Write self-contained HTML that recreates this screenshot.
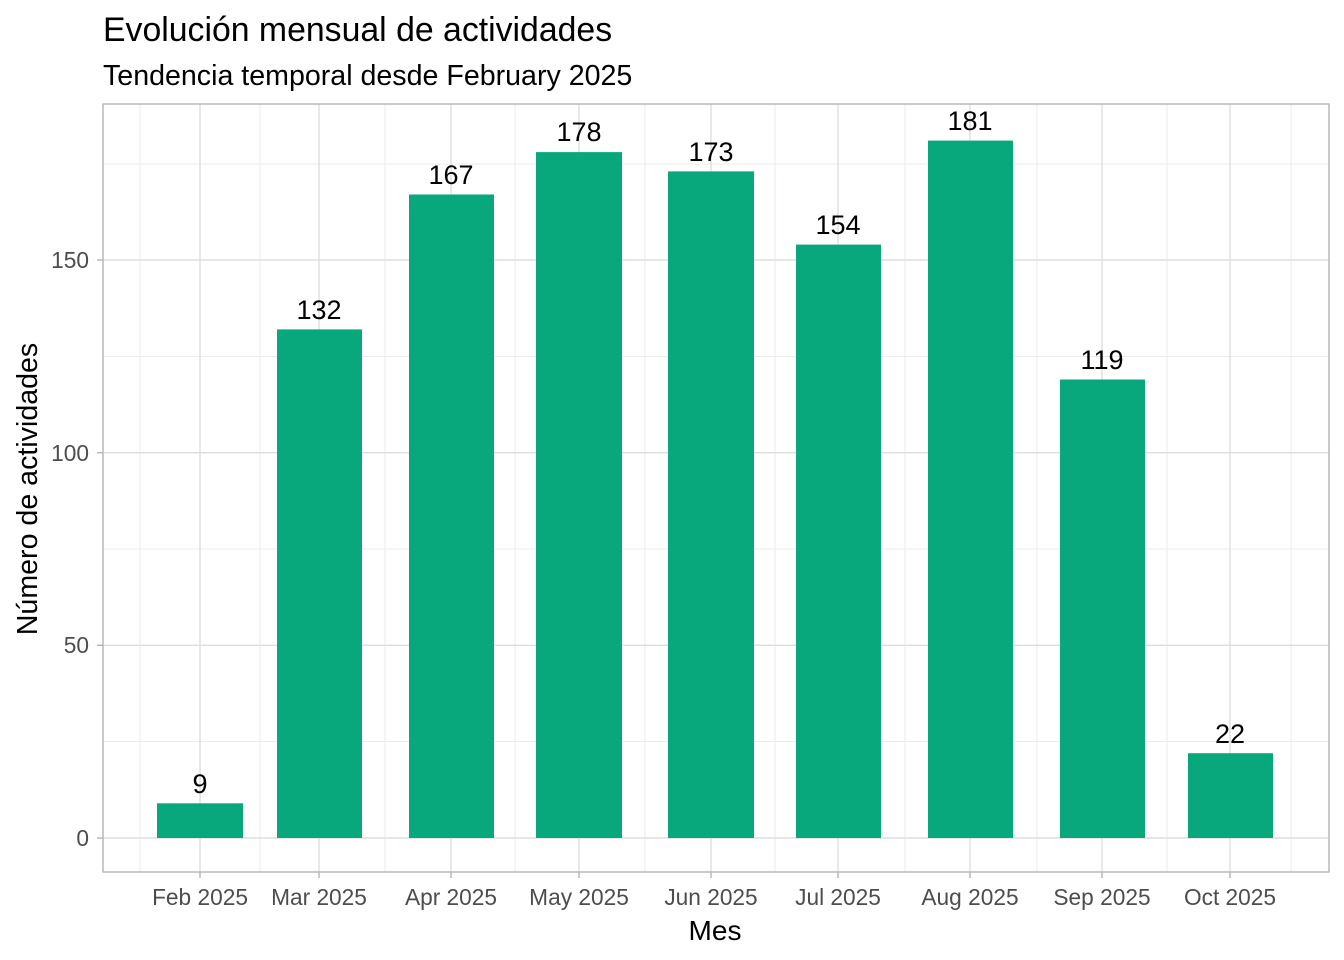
<!DOCTYPE html>
<html><head><meta charset="utf-8"><style>body{margin:0;background:#fff}svg{display:block}</style></head><body>
<svg width="1344" height="960" xmlns="http://www.w3.org/2000/svg" font-family="Liberation Sans, Arial, sans-serif">
<rect width="1344" height="960" fill="#fff"/>
<text x="103" y="41" font-size="33.8" fill="#000">Evolución mensual de actividades</text>
<text x="103" y="85" font-size="28.6" fill="#000">Tendencia temporal desde February 2025</text>
<g stroke="#ebebeb" stroke-width="1">
<line x1="103" x2="1329" y1="741.5" y2="741.5"/><line x1="103" x2="1329" y1="549" y2="549"/>
<line x1="103" x2="1329" y1="356.5" y2="356.5"/><line x1="103" x2="1329" y1="164" y2="164"/>
<line x1="140" x2="140" y1="104" y2="872"/><line x1="260" x2="260" y1="104" y2="872"/>
<line x1="385" x2="385" y1="104" y2="872"/><line x1="515" x2="515" y1="104" y2="872"/>
<line x1="645" x2="645" y1="104" y2="872"/><line x1="775" x2="775" y1="104" y2="872"/>
<line x1="905" x2="905" y1="104" y2="872"/><line x1="1037" x2="1037" y1="104" y2="872"/>
<line x1="1167" x2="1167" y1="104" y2="872"/><line x1="1291" x2="1291" y1="104" y2="872"/>
</g>
<g stroke="#dedede" stroke-width="1.4">
<line x1="103" x2="1329" y1="838" y2="838"/><line x1="103" x2="1329" y1="645.3" y2="645.3"/>
<line x1="103" x2="1329" y1="452.7" y2="452.7"/><line x1="103" x2="1329" y1="260" y2="260"/>
<line x1="200" x2="200" y1="104" y2="872"/><line x1="319" x2="319" y1="104" y2="872"/>
<line x1="451" x2="451" y1="104" y2="872"/><line x1="579" x2="579" y1="104" y2="872"/>
<line x1="711" x2="711" y1="104" y2="872"/><line x1="838" x2="838" y1="104" y2="872"/>
<line x1="970" x2="970" y1="104" y2="872"/><line x1="1102" x2="1102" y1="104" y2="872"/>
<line x1="1230" x2="1230" y1="104" y2="872"/>
</g>
<g fill="#08a77c">
<rect x="157" y="803.3" width="86" height="34.7"/>
<rect x="277" y="329.4" width="85" height="508.6"/>
<rect x="409" y="194.5" width="85" height="643.5"/>
<rect x="536" y="152.1" width="86" height="685.9"/>
<rect x="668" y="171.4" width="86" height="666.6"/>
<rect x="796" y="244.6" width="85" height="593.4"/>
<rect x="928" y="140.6" width="85" height="697.4"/>
<rect x="1060" y="379.5" width="85" height="458.5"/>
<rect x="1188" y="753.2" width="85" height="84.8"/>
</g>
<g font-size="27" text-anchor="middle" fill="#000">
<text x="200" y="793">9</text><text x="319" y="319">132</text><text x="451" y="184">167</text>
<text x="579" y="141">178</text><text x="711" y="161">173</text><text x="838" y="234">154</text>
<text x="970" y="130">181</text><text x="1102" y="369">119</text><text x="1230" y="743">22</text>
</g>
<rect x="103" y="104" width="1226" height="768" fill="none" stroke="#b3b3b3" stroke-width="1.4"/>
<g stroke="#b3b3b3" stroke-width="1.4">
<line x1="97" x2="103" y1="838" y2="838"/><line x1="97" x2="103" y1="645.3" y2="645.3"/>
<line x1="97" x2="103" y1="452.7" y2="452.7"/><line x1="97" x2="103" y1="260" y2="260"/>
<line x1="200" x2="200" y1="872" y2="878"/><line x1="319" x2="319" y1="872" y2="878"/>
<line x1="451" x2="451" y1="872" y2="878"/><line x1="579" x2="579" y1="872" y2="878"/>
<line x1="711" x2="711" y1="872" y2="878"/><line x1="838" x2="838" y1="872" y2="878"/>
<line x1="970" x2="970" y1="872" y2="878"/><line x1="1102" x2="1102" y1="872" y2="878"/>
<line x1="1230" x2="1230" y1="872" y2="878"/>
</g>
<g font-size="22.7" fill="#4d4d4d" text-anchor="end">
<text x="89" y="846">0</text><text x="89" y="653">50</text><text x="89" y="461">100</text><text x="89" y="268">150</text>
</g>
<g font-size="22.7" fill="#4d4d4d" text-anchor="middle">
<text x="200" y="905">Feb 2025</text><text x="319" y="905">Mar 2025</text><text x="451" y="905">Apr 2025</text>
<text x="579" y="905">May 2025</text><text x="711" y="905">Jun 2025</text><text x="838" y="905">Jul 2025</text>
<text x="970" y="905">Aug 2025</text><text x="1102" y="905">Sep 2025</text><text x="1230" y="905">Oct 2025</text>
</g>
<text x="715" y="940" font-size="28" text-anchor="middle" fill="#000">Mes</text>
<text transform="translate(37,489) rotate(-90)" font-size="28.6" text-anchor="middle" fill="#000">Número de actividades</text>
</svg>
</body></html>
